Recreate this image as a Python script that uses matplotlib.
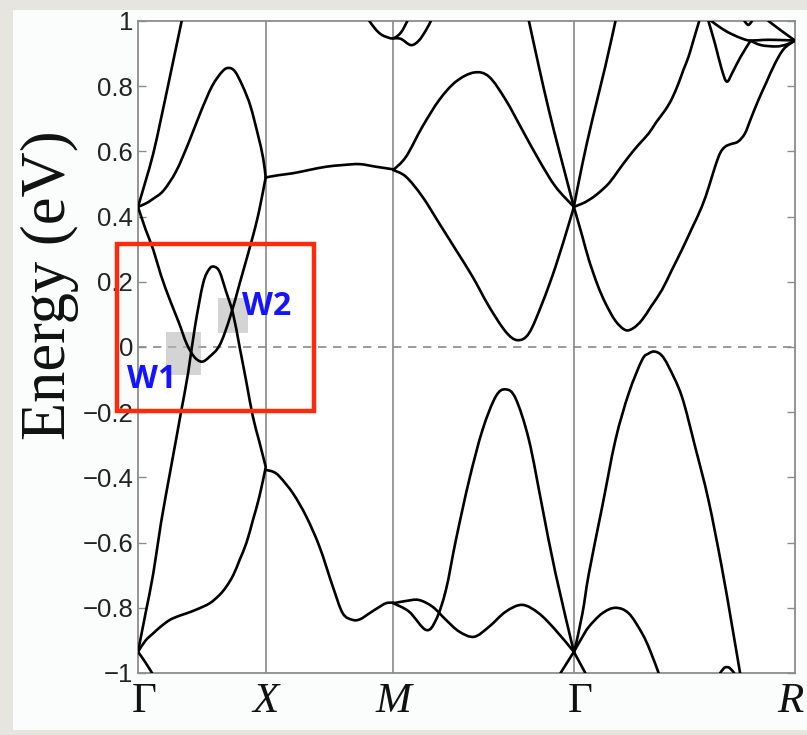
import matplotlib
matplotlib.use("Agg")
import matplotlib.pyplot as plt
from matplotlib.patches import Rectangle, PathPatch
from matplotlib.path import Path

# ---------------- high-symmetry path ----------------
k_labels = ["Γ", "X", "M", "Γ", "R"]
k_ticks = [0.0, 0.5, 1.0, 1.7071, 2.5731]
y_ticks = [1, 0.8, 0.6, 0.4, 0.2, 0, -0.2, -0.4, -0.6, -0.8, -1]
y_tick_labels = ["1", "0.8", "0.6", "0.4", "0.2", "0", "\u22120.2", "\u22120.4",
                 "\u22120.6", "\u22120.8", "\u22121"]

# ---------------- bands: Γ – X ----------------
gx_a_k = [0.0, 0.03, 0.06, 0.09, 0.125, 0.171]
gx_a_E = [0.43, 0.51, 0.594, 0.70, 0.829, 1.0]
gx_b_k = [0.0, 0.03, 0.06, 0.10, 0.15, 0.20, 0.245, 0.29, 0.33, 0.355, 0.38, 0.41, 0.44, 0.47, 0.49, 0.5]
gx_b_E = [0.43, 0.44, 0.455, 0.48, 0.54, 0.63, 0.72, 0.80, 0.845, 0.856, 0.845, 0.80, 0.74, 0.65, 0.58, 0.52]
gx_c_k = [0.0, 0.03, 0.06, 0.09, 0.125, 0.16, 0.19, 0.22, 0.25, 0.28, 0.32, 0.36, 0.40, 0.45, 0.475, 0.5]
gx_c_E = [0.43, 0.36, 0.298, 0.22, 0.144, 0.075, 0.011, -0.03, -0.045, -0.03, 0.006, 0.09, 0.20, 0.34, 0.42, 0.52]
gx_d_k = [0.0, 0.03, 0.06, 0.09, 0.125, 0.15, 0.17, 0.196, 0.223, 0.255, 0.28, 0.30, 0.32, 0.345, 0.372, 0.398, 0.425, 0.45, 0.475, 0.5]
gx_d_E = [-0.935, -0.815, -0.694, -0.54, -0.387, -0.28, -0.193, -0.081, 0.062, 0.195, 0.24, 0.246, 0.23, 0.17, 0.103, 0.0, -0.11, -0.214, -0.29, -0.367]
gx_e_k = [0.0, 0.03, 0.06, 0.09, 0.125, 0.16, 0.19, 0.23, 0.281, 0.32, 0.346, 0.373, 0.398, 0.425, 0.45, 0.475, 0.5]
gx_e_E = [-0.935, -0.90, -0.878, -0.857, -0.837, -0.825, -0.817, -0.805, -0.786, -0.76, -0.735, -0.70, -0.653, -0.60, -0.531, -0.46, -0.37]
gx_f_k = [0.0, 0.027, 0.055]
gx_f_E = [-0.935, -0.965, -1.0]

# ---------------- bands: X – M ----------------
xm_a_k = [0.5, 0.55, 0.607, 0.67, 0.737, 0.80, 0.867, 0.932, 1.0]
xm_a_E = [0.52, 0.527, 0.533, 0.543, 0.553, 0.558, 0.561, 0.553, 0.545]
xm_b_k = [0.5, 0.53, 0.555, 0.607, 0.659, 0.711, 0.763, 0.802, 0.841, 0.87, 0.906, 0.94, 0.971, 1.0]
xm_b_E = [-0.377, -0.383, -0.398, -0.449, -0.52, -0.613, -0.735, -0.817, -0.837, -0.835, -0.817, -0.80, -0.786, -0.784]
xm_c_k = [0.906, 0.93, 0.95, 0.97, 1.0, 1.03, 1.055]
xm_c_E = [1.0, 0.975, 0.96, 0.952, 0.947, 0.965, 1.0]
mg_t_k = [1.0, 1.03, 1.069, 1.10, 1.128, 1.147]
mg_t_E = [0.947, 0.945, 0.926, 0.94, 0.972, 1.0]

# ---------------- bands: M – Γ ----------------
mg_a_k = [1.0, 1.05, 1.114, 1.18, 1.245, 1.316, 1.375, 1.44, 1.505, 1.57, 1.635, 1.707]
mg_a_E = [0.543, 0.584, 0.676, 0.758, 0.814, 0.842, 0.829, 0.758, 0.666, 0.574, 0.492, 0.43]
mg_b_k = [1.0, 1.05, 1.114, 1.18, 1.245, 1.31, 1.375, 1.44, 1.486, 1.531, 1.583, 1.635, 1.688, 1.707]
mg_b_E = [0.543, 0.522, 0.461, 0.379, 0.298, 0.216, 0.124, 0.047, 0.021, 0.042, 0.134, 0.246, 0.379, 0.43]
mg_c_k = [1.531, 1.57, 1.609, 1.65, 1.707]
mg_c_E = [1.0, 0.86, 0.727, 0.60, 0.43]
mg_g_k = [1.0, 1.05, 1.10, 1.154, 1.206, 1.258, 1.316, 1.375, 1.44, 1.505, 1.57, 1.635, 1.707]
mg_g_E = [-0.786, -0.779, -0.776, -0.797, -0.837, -0.873, -0.889, -0.858, -0.812, -0.791, -0.817, -0.868, -0.935]
mg_h_k = [1.0, 1.062, 1.128, 1.167, 1.206, 1.245, 1.297, 1.349, 1.401, 1.44, 1.479, 1.531, 1.583, 1.635, 1.707]
mg_h_E = [-0.786, -0.812, -0.868, -0.837, -0.745, -0.592, -0.408, -0.255, -0.152, -0.130, -0.158, -0.285, -0.49, -0.694, -0.935]
mg_i_k = [1.655, 1.707]
mg_i_E = [-1.0, -0.935]

# ---------------- bands: Γ – R ----------------
gr_j_k = [1.707, 1.74, 1.779, 1.83, 1.87]
gr_j_E = [0.43, 0.56, 0.696, 0.86, 1.0]
gr_k_k = [1.707, 1.74, 1.766, 1.80, 1.844, 1.88, 1.922, 1.96, 2.0, 2.03, 2.065, 2.09, 2.117, 2.136, 2.156, 2.175, 2.198]
gr_k_E = [0.43, 0.44, 0.451, 0.47, 0.502, 0.54, 0.584, 0.62, 0.655, 0.69, 0.727, 0.76, 0.809, 0.85, 0.89, 0.94, 1.0]
gr_l_k = [1.707, 1.74, 1.766, 1.80, 1.831, 1.87, 1.909, 1.94, 1.974, 2.01, 2.052, 2.09, 2.13, 2.17, 2.208,
          2.235, 2.26, 2.28, 2.299, 2.32, 2.35, 2.377, 2.40, 2.43, 2.46, 2.495, 2.53, 2.573]
gr_l_E = [0.43, 0.34, 0.267, 0.19, 0.134, 0.08, 0.052, 0.058, 0.083, 0.125, 0.175, 0.235, 0.298, 0.365, 0.43,
          0.49, 0.553, 0.595, 0.614, 0.622, 0.63, 0.655, 0.70, 0.758, 0.81, 0.87, 0.915, 0.94]
gr_m_k = [2.234, 2.26, 2.285, 2.306, 2.33, 2.36, 2.397]
gr_m_E = [1.0, 0.93, 0.855, 0.814, 0.845, 0.89, 0.937]
gr_q_k = [2.245, 2.29, 2.33, 2.37, 2.397, 2.45, 2.50, 2.573]
gr_q_E = [1.0, 0.975, 0.958, 0.945, 0.94, 0.942, 0.942, 0.94]
gr_r_k = [2.397, 2.44, 2.50, 2.54, 2.573]
gr_r_E = [0.94, 0.926, 0.922, 0.928, 0.94]
gr_u_k = [2.469, 2.52, 2.573]
gr_u_E = [1.0, 0.97, 0.94]
gr_v_k = [2.375, 2.39, 2.405]
gr_v_E = [1.0, 0.988, 1.0]
gr_n_k = [1.707, 1.74, 1.766, 1.818, 1.87, 1.922, 1.974, 2.0, 2.023, 2.05, 2.078, 2.13, 2.182, 2.234, 2.286, 2.325, 2.358]
gr_n_E = [-0.94, -0.82, -0.694, -0.49, -0.285, -0.142, -0.04, -0.02, -0.014, -0.025, -0.06, -0.152, -0.306, -0.469, -0.674, -0.848, -1.0]
gr_o_k = [1.707, 1.74, 1.766, 1.818, 1.87, 1.922, 1.974, 2.005, 2.039]
gr_o_E = [-0.935, -0.89, -0.858, -0.817, -0.80, -0.817, -0.878, -0.93, -1.0]
gr_p_k = [1.707, 1.752]
gr_p_E = [-0.935, -1.0]
gr_s_k = [2.28, 2.295, 2.306, 2.318, 2.335]
gr_s_E = [-1.0, -0.985, -0.982, -0.985, -1.0]

bands = [
    (gx_a_k, gx_a_E), (gx_b_k, gx_b_E), (gx_c_k, gx_c_E), (gx_d_k, gx_d_E),
    (gx_e_k, gx_e_E), (gx_f_k, gx_f_E),
    (xm_a_k, xm_a_E), (xm_b_k, xm_b_E), (xm_c_k, xm_c_E), (mg_t_k, mg_t_E),
    (mg_a_k, mg_a_E), (mg_b_k, mg_b_E), (mg_c_k, mg_c_E), (mg_g_k, mg_g_E),
    (mg_h_k, mg_h_E), (mg_i_k, mg_i_E),
    (gr_j_k, gr_j_E), (gr_k_k, gr_k_E), (gr_l_k, gr_l_E), (gr_m_k, gr_m_E),
    (gr_q_k, gr_q_E), (gr_r_k, gr_r_E), (gr_u_k, gr_u_E), (gr_v_k, gr_v_E),
    (gr_n_k, gr_n_E), (gr_o_k, gr_o_E), (gr_p_k, gr_p_E), (gr_s_k, gr_s_E),
]

# Weyl point annotations
weyl_names = ["W1", "W2"]
weyl_k = [0.19, 0.372]
weyl_E = [0.0, 0.103]


def smooth_path(xs, ys):
    """Cubic Bezier path through the read points (Catmull-Rom tangents)."""
    pts = list(zip(xs, ys))
    n = len(pts)
    if n < 3:
        return Path(pts)
    verts = [pts[0]]
    codes = [Path.MOVETO]
    for i in range(n - 1):
        p0 = pts[i - 1] if i > 0 else pts[i]
        p1 = pts[i]
        p2 = pts[i + 1]
        p3 = pts[i + 2] if i + 2 < n else pts[i + 1]
        c1 = (p1[0] + (p2[0] - p0[0]) / 6.0, p1[1] + (p2[1] - p0[1]) / 6.0)
        c2 = (p2[0] - (p3[0] - p1[0]) / 6.0, p2[1] - (p3[1] - p1[1]) / 6.0)
        verts += [c1, c2, p2]
        codes += [Path.CURVE4, Path.CURVE4, Path.CURVE4]
    return Path(verts, codes)


# ---------------- figure ----------------
W, H = 807, 735
fig = plt.figure(figsize=(W / 100, H / 100), dpi=100)
fig.patch.set_facecolor("#e7e5df")
fig.add_artist(Rectangle((13 / W, 5 / H), 1 - 13 / W, (730 - 10) / H,
                         transform=fig.transFigure, facecolor="#fbfdfd",
                         edgecolor="none", zorder=0))

ax = fig.add_axes([138 / W, 1 - 673 / H, (795 - 138) / W, (673 - 21) / H])
ax.set_facecolor("white")
ax.set_xlim(k_ticks[0], k_ticks[-1])
ax.set_ylim(-1, 1)

for kk in k_ticks[1:-1]:
    ax.axvline(kk, color="#9a9a9a", lw=1.4, zorder=1)
ax.axhline(0, color="#8a8a8a", lw=1.2, ls=(0, (5, 4)), zorder=1)

for kx, ey in bands:
    ax.add_patch(PathPatch(smooth_path(kx, ey), facecolor="none", edgecolor="black",
                           lw=1.9, capstyle="round", joinstyle="round", zorder=3))

for sp in ax.spines.values():
    sp.set_color("#8c8c8c")
    sp.set_linewidth(1.3)

ax.set_xticks(k_ticks)
ax.set_xticklabels([])
ax.tick_params(axis="x", length=0)
label_dx_px = [6, 0, 0, 6, -5]
for kk, lab, dx in zip(k_ticks, k_labels, label_dx_px):
    style = "normal" if lab == "Γ" else "italic"
    ax.annotate(lab, xy=(kk, -1.0), xycoords="data", xytext=(dx * 0.72, -7),
                textcoords="offset points", ha="center", va="top", fontsize=31,
                family="Liberation Serif", style=style, color="#111111",
                annotation_clip=False)

ax.set_yticks(y_ticks)
ax.set_yticklabels(y_tick_labels, fontsize=18.5, family="Liberation Sans", color="#222222")
ax.tick_params(axis="y", direction="in", length=6, width=1, color="#8c8c8c",
               right=True, left=True, pad=3.5)

fig.text(50 / W, 1 - 285 / H, "Energy (eV)", rotation=90, ha="center", va="center",
         fontsize=45, family="Liberation Serif", color="#111111")

# Weyl point shaded boxes
ax.add_patch(Rectangle((weyl_k[0] - 0.08, weyl_E[0] - 0.085), 0.135, 0.13,
                       facecolor="#b8b8b8", alpha=0.6, edgecolor="none", zorder=2))
ax.add_patch(Rectangle((weyl_k[1] - 0.06, weyl_E[1] - 0.06), 0.117, 0.107,
                       facecolor="#b8b8b8", alpha=0.6, edgecolor="none", zorder=2))

ax.text(weyl_k[0] - 0.135, weyl_E[0] - 0.10, weyl_names[0], color="#1414ff", fontsize=23,
        fontweight="bold", family="Open Sans", ha="center", va="center", zorder=5)
ax.text(weyl_k[1] + 0.13, weyl_E[1] + 0.02, weyl_names[1], color="#1414ff", fontsize=23,
        fontweight="bold", family="Open Sans", ha="center", va="center", zorder=5)

# red highlight rectangle
ax.add_patch(Rectangle((-0.082, -0.196), 0.77, 0.512, facecolor="none",
                       edgecolor="#ff2a0a", lw=3.2, clip_on=False, zorder=6))

fig.savefig("out.png", dpi=100, facecolor=fig.get_facecolor())
